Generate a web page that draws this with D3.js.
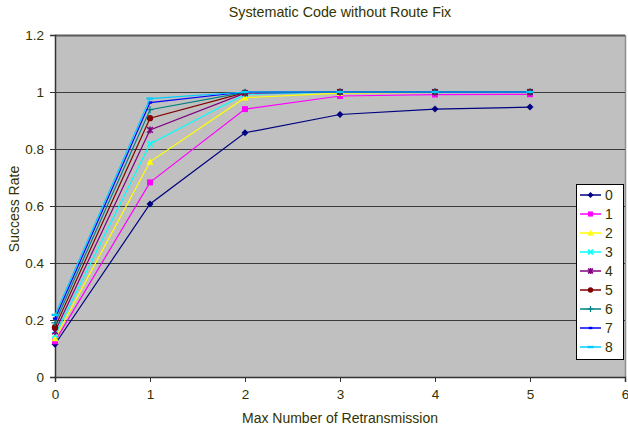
<!DOCTYPE html>
<html>
<head>
<meta charset="utf-8">
<script src="https://cdn.jsdelivr.net/npm/d3@7"></script>
<style>
  html, body { margin: 0; padding: 0; background: #ffffff; }
  svg { display: block; }
  text { font-family: "Liberation Sans", Arial, sans-serif; fill: #333300; }
</style>
</head>
<body>
<svg id="chart" width="628" height="432"></svg>
<script>
// Success rate vs. max number of retransmissions, one series per setting 0..8
const retransmissions = [0, 1, 2, 3, 4, 5];
const seriesNames = ["0", "1", "2", "3", "4", "5", "6", "7", "8"];
const s0 = [0.115, 0.607, 0.857, 0.921, 0.940, 0.947];
const s1 = [0.125, 0.683, 0.940, 0.986, 0.991, 0.992];
const s2 = [0.135, 0.755, 0.980, 0.996, 0.999, 1.000];
const s3 = [0.147, 0.818, 0.992, 1.000, 1.000, 1.000];
const s4 = [0.160, 0.867, 0.996, 1.000, 1.000, 1.000];
const s5 = [0.175, 0.908, 0.998, 1.000, 1.000, 1.000];
const s6 = [0.190, 0.938, 0.999, 1.000, 1.000, 1.000];
const s7 = [0.205, 0.963, 1.000, 1.000, 1.000, 1.000];
const s8 = [0.218, 0.977, 1.000, 1.000, 1.000, 1.000];
const seriesValues = [s0, s1, s2, s3, s4, s5, s6, s7, s8];
const xTicks = [0, 1, 2, 3, 4, 5, 6];
const yTicks = [0, 0.2, 0.4, 0.6, 0.8, 1, 1.2];

const colors = ["#000080", "#ff00ff", "#ffff00", "#00ffff", "#800080",
                "#800000", "#008080", "#0000ff", "#00ccff"];
const markers = ["diamond", "square", "triangle", "cross", "star",
                 "circle", "plus", "dashShort", "dashLong"];

const svg = d3.select("#chart");
const plot = { left: 55, right: 625, top: 35, bottom: 377 };

const x = d3.scaleLinear().domain([0, 6]).range([plot.left, plot.right]);
const y = d3.scaleLinear().domain([0, 1.2]).range([plot.bottom, plot.top]);

// plot background
svg.append("rect")
  .attr("x", plot.left).attr("y", plot.top)
  .attr("width", plot.right - plot.left).attr("height", plot.bottom - plot.top)
  .attr("fill", "#c0c0c0");

// right border shade
svg.append("line")
  .attr("x1", plot.right + 0.5).attr("x2", plot.right + 0.5)
  .attr("y1", plot.top).attr("y2", plot.bottom)
  .attr("stroke", "#8c8c8c").attr("stroke-width", 1.5);

// horizontal gridlines
svg.append("g").selectAll("line")
  .data(yTicks.filter(d => d > 0))
  .join("line")
  .attr("x1", plot.left).attr("x2", plot.right)
  .attr("y1", d => Math.round(y(d)) + 0.5).attr("y2", d => Math.round(y(d)) + 0.5)
  .attr("stroke", d => d === 1.2 ? "#5a5a5a" : "#3c3c3c")
  .attr("stroke-width", d => d === 1.2 ? 2 : 1);

// axes
const yAxis = d3.axisLeft(y).tickValues(yTicks).tickSize(5).tickPadding(6)
  .tickFormat(d => d3.format("~g")(d));
const xAxis = d3.axisBottom(x).tickValues(xTicks).tickSize(5).tickPadding(7)
  .tickFormat(d3.format("d"));

const gy = svg.append("g").attr("transform", `translate(${plot.left},0)`).call(yAxis);
const gx = svg.append("g").attr("transform", `translate(0,${plot.bottom})`).call(xAxis);
[gy, gx].forEach(g => {
  g.select(".domain").attr("stroke", "#333333").attr("stroke-width", 1.5);
  g.selectAll(".tick line").attr("stroke", "#333333");
  g.selectAll(".tick text").attr("font-size", 13.5).style("fill", "#333300")
    .attr("font-family", "Liberation Sans, Arial, sans-serif");
});

// titles
svg.append("text").attr("x", 340).attr("y", 17).attr("text-anchor", "middle")
  .attr("font-size", 14.3).text("Systematic Code without Route Fix");
svg.append("text").attr("x", 340).attr("y", 423).attr("text-anchor", "middle")
  .attr("font-size", 14).text("Max Number of Retransmission");
svg.append("text").attr("transform", `translate(19,${(plot.top + plot.bottom) / 2 + 3}) rotate(-90)`)
  .attr("text-anchor", "middle").attr("font-size", 14).text("Success Rate");

// marker drawing
function drawMarker(g, type, color, size) {
  const s = size;
  switch (type) {
    case "diamond":
      g.append("path").attr("d", `M0,${-s}L${s},0L0,${s}L${-s},0Z`).attr("fill", color);
      break;
    case "square":
      g.append("rect").attr("x", -s * 0.85).attr("y", -s * 0.85)
        .attr("width", s * 1.7).attr("height", s * 1.7).attr("fill", color);
      break;
    case "triangle":
      g.append("path").attr("d", `M0,${-s}L${s},${s * 0.8}L${-s},${s * 0.8}Z`).attr("fill", color);
      break;
    case "cross":
      g.append("path").attr("d", `M${-s * 0.8},${-s * 0.8}L${s * 0.8},${s * 0.8}M${-s * 0.8},${s * 0.8}L${s * 0.8},${-s * 0.8}`)
        .attr("stroke", color).attr("stroke-width", 1.5);
      break;
    case "star":
      g.append("path").attr("d", `M${-s * 0.8},${-s * 0.8}L${s * 0.8},${s * 0.8}M${-s * 0.8},${s * 0.8}L${s * 0.8},${-s * 0.8}M0,${-s}L0,${s}`)
        .attr("stroke", color).attr("stroke-width", 1.5);
      break;
    case "circle":
      g.append("circle").attr("r", s * 0.9).attr("fill", color);
      break;
    case "plus":
      g.append("path").attr("d", `M${-s},0L${s},0M0,${-s}L0,${s}`)
        .attr("stroke", color).attr("stroke-width", 1.2);
      break;
    case "dashShort":
      g.append("rect").attr("x", -s * 0.6).attr("y", -1.2).attr("width", s * 1.2).attr("height", 2.4).attr("fill", color);
      break;
    case "dashLong":
      g.append("rect").attr("x", -s).attr("y", -1.2).attr("width", s * 2).attr("height", 2.4).attr("fill", color);
      break;
  }
}

// series lines and markers
const line = d3.line().x((d, i) => x(retransmissions[i])).y(d => y(d));
seriesValues.forEach((vals, si) => {
  const g = svg.append("g");
  g.append("path").attr("d", line(vals)).attr("fill", "none")
    .attr("stroke", colors[si]).attr("stroke-width", 1.2);
  vals.forEach((v, i) => {
    const m = g.append("g").attr("transform", `translate(${x(retransmissions[i])},${y(v)})`);
    drawMarker(m, markers[si], colors[si], 3.5);
  });
});

// legend
const legend = svg.append("g").attr("transform", "translate(576,184)");
legend.append("rect").attr("x", 0.5).attr("y", 0.5).attr("width", 47).attr("height", 175)
  .attr("fill", "#ffffff").attr("stroke", "#000000").attr("stroke-width", 1);
seriesNames.forEach((name, i) => {
  const yy = 11 + i * 19;
  const item = legend.append("g").attr("transform", `translate(0,${yy})`);
  item.append("line").attr("x1", 4).attr("x2", 25).attr("y1", 0).attr("y2", 0)
    .attr("stroke", colors[i]).attr("stroke-width", 1.5);
  const m = item.append("g").attr("transform", "translate(14.5,0)");
  drawMarker(m, markers[i], colors[i], 3);
  item.append("text").attr("x", 29).attr("y", 5).attr("font-size", 14).text(name);
});
</script>
</body>
</html>
